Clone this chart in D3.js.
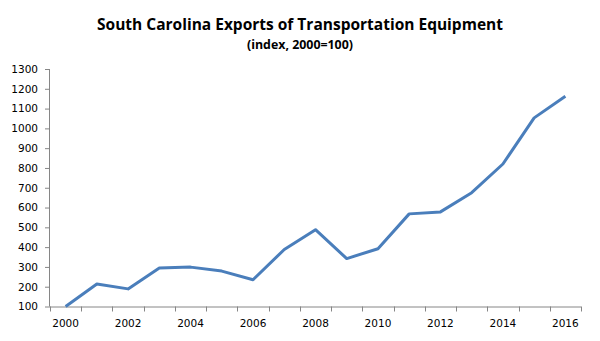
<!DOCTYPE html>
<html><head><meta charset="utf-8">
<script src="https://cdn.jsdelivr.net/npm/d3@7"></script>
<style>html,body{margin:0;padding:0;background:#fff;}svg{display:block;}</style>
</head><body>
<script>
const years = [2000,2001,2002,2003,2004,2005,2006,2007,2008,2009,2010,2011,2012,2013,2014,2015,2016];
const values = [100,214,189,295,299,279,235,388,488,342,392,568,578,675,820,1053,1162];
const xTickLabels = [2000,2002,2004,2006,2008,2010,2012,2014,2016];
const yTicks = [100,200,300,400,500,600,700,800,900,1000,1100,1200,1300];
const titleText = "South Carolina Exports of Transportation Equipment";
const subtitleText = "(index, 2000=100)";

(function(){
const W = 600, H = 341;
const svg = d3.select("body").append("svg").attr("width", W).attr("height", H);
const pL = 50, pR = 581, pT = 69, pB = 306.5;

const x = d3.scaleBand().domain(years).range([pL, pR]);
const y = d3.scaleLinear().domain([100, 1300]).range([pB, pT]);
const axisColor = "#868686";
const tickFont = "'DejaVu Sans', Verdana, sans-serif";

// Y axis
const yAxis = svg.append("g").attr("transform", `translate(${pL},0)`)
  .call(d3.axisLeft(y).tickValues(yTicks).tickSize(5).tickPadding(7).tickFormat(d3.format("d")));
yAxis.select(".domain").attr("stroke", axisColor).attr("d", `M-0.5,${pT}V${pB}`);
yAxis.selectAll(".tick line").attr("stroke", axisColor);
yAxis.selectAll(".tick text").attr("font-family", tickFont).attr("font-size", "10.5px").attr("fill", "#000");

// X axis (ticks between categories)
const xg = svg.append("g").attr("transform", `translate(0,${pB})`);
xg.append("line").attr("x1", pL).attr("x2", pR).attr("y1", 0.5).attr("y2", 0.5).attr("stroke", axisColor);
const boundaries = years.map(d => x(d)).concat([x(years[years.length-1]) + x.bandwidth()]);
xg.selectAll("line.tk").data(boundaries).enter().append("line").attr("class","tk")
  .attr("x1", d => Math.round(d)+0.5).attr("x2", d => Math.round(d)+0.5).attr("y1", 0).attr("y2", 5).attr("stroke", axisColor);
xg.selectAll("text").data(xTickLabels).enter().append("text")
  .attr("x", d => x(d) + x.bandwidth()/2).attr("y", 20)
  .attr("text-anchor", "middle").attr("font-family", tickFont).attr("font-size", "10.5px").attr("fill", "#000")
  .text(d => d);

// Line
const line = d3.line().x((d,i) => x(years[i]) + x.bandwidth()/2).y(d => y(d));
svg.append("path").datum(values).attr("d", line).attr("fill", "none")
  .attr("stroke", "#4a7ebb").attr("stroke-width", 3).attr("stroke-linejoin", "round");

// Titles
const t = svg.append("text").attr("x", 300).attr("y", 30).attr("text-anchor", "middle")
  .attr("font-family", "'Open Sans', sans-serif").attr("font-weight", "bold").attr("font-size", "16px").attr("fill", "#000")
  .text(titleText);
let tw = t.node().getComputedTextLength();
t.attr("font-size", (16 * 406 / tw).toFixed(2) + "px");
const s = svg.append("text").attr("x", 300).attr("y", 49).attr("text-anchor", "middle")
  .attr("font-family", "'Open Sans', sans-serif").attr("font-weight", "bold").attr("font-size", "12px").attr("fill", "#000")
  .text(subtitleText);
let sw = s.node().getComputedTextLength();
s.attr("font-size", (12 * 106 / sw).toFixed(2) + "px");
})();
</script>
</body></html>
